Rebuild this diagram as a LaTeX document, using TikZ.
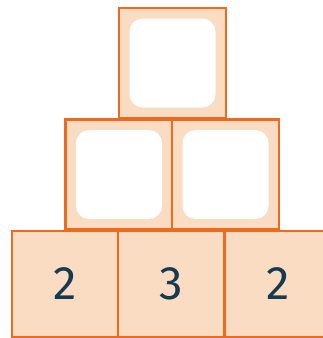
\documentclass[tikz,border=0pt]{standalone}
\usepackage{fontspec}
\setsansfont{Fira Sans}
\usepackage{tikz}

\definecolor{brick}{HTML}{FADCC3}
\definecolor{brickline}{HTML}{EE6A1E}
\definecolor{digit}{HTML}{163A50}

\begin{document}
\begin{tikzpicture}[x=1pt, y=-1pt,
	brick/.style={draw=brickline, fill=brick, line width=2.2pt, minimum width=107pt, minimum height=#1, inner sep=0pt, outer sep=0pt},
	brick/.default=110pt,
	hole/.style={fill=white, rounded corners=13pt, minimum width=86pt, minimum height=89pt, inner sep=0pt},
	every node/.style={font=\sffamily\fontsize{47}{47}\selectfont, text=digit}]
	\useasboundingbox (0,0) rectangle (323,338);
	\clip (0,0) rectangle (323,338);
	% bottom row
	\node[brick=106pt] (b1) at (65.5,284) {2};
	\node[brick=106pt] (b2) at (171.5,284) {3};
	\node[brick=106pt] (b3) at (278,284) {2};
	% middle row
	\node[brick] (m1) at (119,174.5) {};
	\node[brick] (m2) at (225.5,174.5) {};
	\node[hole] (h1) at (m1) {};
	\node[hole] (h2) at (m2) {};
	% top
	\node[brick] (t) at (172.5,63) {};
	\node[hole] (h3) at (t) {};
\end{tikzpicture}
\end{document}
